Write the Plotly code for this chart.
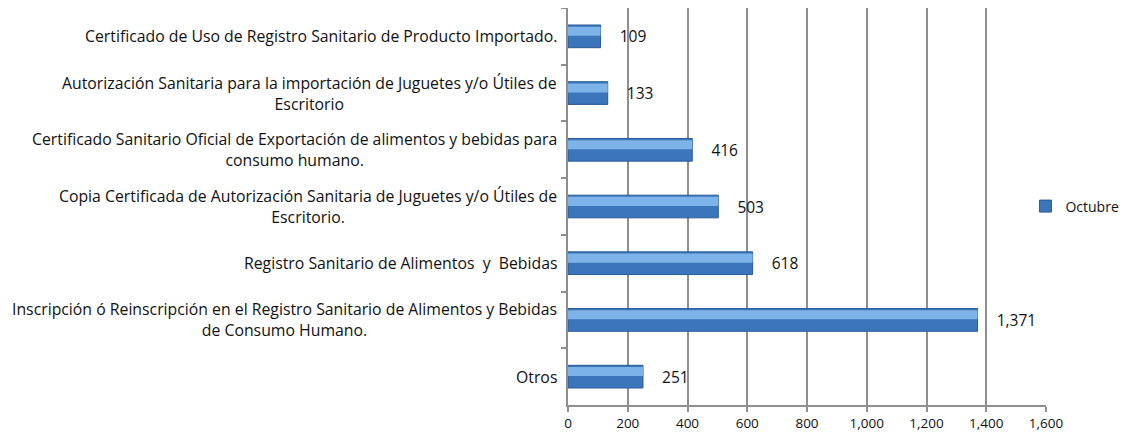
import plotly.graph_objects as go

# data
categorias = [
    "Certificado de Uso de Registro Sanitario de Producto Importado.",
    "Autorización Sanitaria para la importación de Juguetes y/o Útiles de<br>Escritorio",
    "Certificado Sanitario Oficial de Exportación de alimentos y bebidas para<br>consumo humano.",
    "Copia Certificada de Autorización Sanitaria de Juguetes y/o Útiles de<br>Escritorio.",
    "Registro Sanitario de Alimentos  y  Bebidas",
    "Inscripción ó Reinscripción en el Registro Sanitario de Alimentos y Bebidas<br>de Consumo Humano.",
    "Otros",
]
octubre = [109, 133, 416, 503, 618, 1371, 251]
x_ticks = [0, 200, 400, 600, 800, 1000, 1200, 1400, 1600]

FONT = "'Open Sans', Lato, sans-serif"
GRID = "#8f8f8f"

fig = go.Figure()

# main bar (darker body)
fig.add_trace(go.Bar(
    y=categorias, x=octubre, orientation="h", name="Octubre",
    width=0.4, offset=-0.2,
    marker=dict(color="#3B76BC", line=dict(color="#2A5A96", width=1)),
    texttemplate="\u00a0\u00a0\u00a0\u00a0%{x:,}", textposition="outside",
    textfont=dict(size=15.5, color="#111111", family=FONT),
    cliponaxis=False,
))
# lighter highlight band on the upper part of each bar
fig.add_trace(go.Bar(
    y=categorias, x=octubre, orientation="h", name="Octubre",
    width=0.16, offset=-0.17,
    marker=dict(color="#7EB3E9", line=dict(width=0)),
    showlegend=False, hoverinfo="skip",
))

# category labels as centred annotations
for cat in categorias:
    fig.add_annotation(
        x=-0.018, xref="paper", y=cat, yref="y",
        text=cat, showarrow=False, xanchor="right", align="center",
        font=dict(size=15.8, color="#111111", family=FONT),
    )

# page body adds an 8px offset, so the figure is 8px smaller than the window
fig.update_layout(
    width=1121, height=431,
    margin=dict(l=560, r=83, t=0, b=34, autoexpand=False),
    paper_bgcolor="white", plot_bgcolor="white",
    barmode="overlay", bargap=0.6,
    showlegend=True,
    legend=dict(x=0.957, xanchor="left", y=0.5, yanchor="middle",
                bgcolor="rgba(0,0,0,0)",
                font=dict(size=14, color="#111111", family=FONT),
                itemwidth=30, traceorder="normal"),
    font=dict(family=FONT),
)

fig.update_xaxes(
    range=[0, 1600], tickvals=x_ticks, tickformat=",",
    showgrid=True, gridcolor=GRID, gridwidth=2,
    showline=True, linecolor=GRID, linewidth=2,
    ticks="outside", ticklen=5, tickcolor=GRID, tickwidth=2,
    tickfont=dict(size=13.5, color="#111111", family=FONT),
    zeroline=False,
)
fig.update_yaxes(
    categoryorder="array", categoryarray=categorias, autorange="reversed",
    showticklabels=False,
    showline=True, linecolor=GRID, linewidth=2,
    ticks="outside", ticklen=5, tickcolor=GRID, tickwidth=2,
    tickson="boundaries", showgrid=False,
)

fig.write_html("out.html")
